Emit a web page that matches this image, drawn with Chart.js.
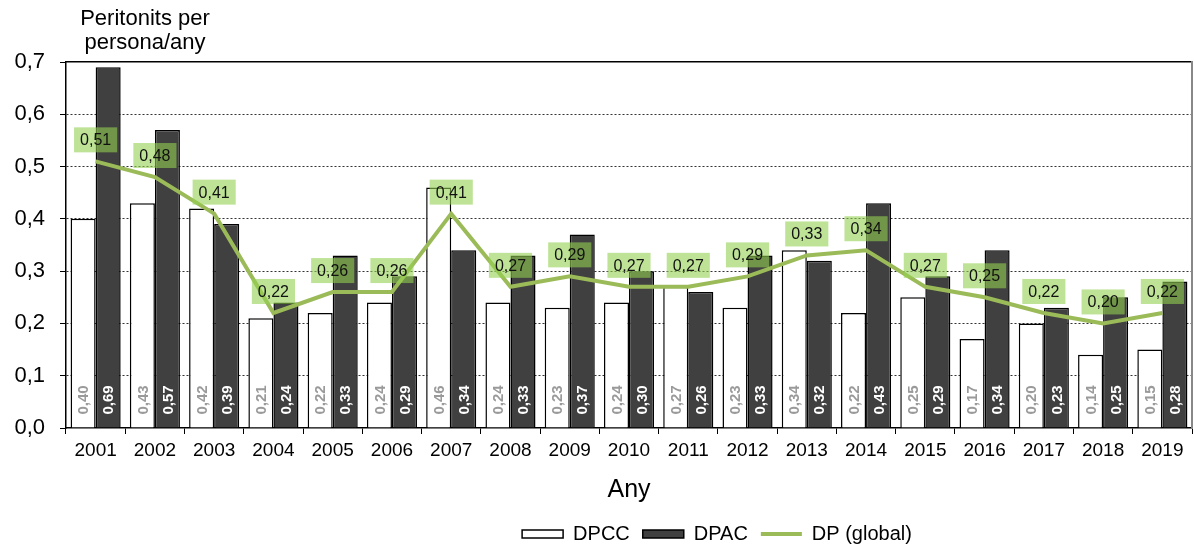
<!DOCTYPE html>
<html lang="ca">
<head>
  <meta charset="UTF-8">
  <title>Peritonits per persona/any</title>
  <script src="https://cdn.jsdelivr.net/npm/chart.js"></script>
  <style>
    body {
      margin: 0;
      background: #ffffff;
    }
    canvas {
      display: block;
    }
  </style>
</head>
<body>

<canvas id="peritonitisChart" width="1194" height="546"></canvas>

<script>
  const years = ['2001', '2002', '2003', '2004', '2005', '2006', '2007', '2008', '2009', '2010',
                 '2011', '2012', '2013', '2014', '2015', '2016', '2017', '2018', '2019'];
  const dpcc = [0.40, 0.43, 0.42, 0.21, 0.22, 0.24, 0.46, 0.24, 0.23, 0.24,
                0.27, 0.23, 0.34, 0.22, 0.25, 0.17, 0.20, 0.14, 0.15];
  const dpac = [0.69, 0.57, 0.39, 0.24, 0.33, 0.29, 0.34, 0.33, 0.37, 0.30,
                0.26, 0.33, 0.32, 0.43, 0.29, 0.34, 0.23, 0.25, 0.28];
  const dpGlobal = [0.51, 0.48, 0.41, 0.22, 0.26, 0.26, 0.41, 0.27, 0.29, 0.27,
                    0.27, 0.29, 0.33, 0.34, 0.27, 0.25, 0.22, 0.20, 0.22];
  const yTitle = ['Peritonits per', 'persona/any'];
  const xTitle = 'Any';

  const FONT = "'Liberation Sans', Arial, sans-serif";
  Chart.defaults.font.family = FONT;
  Chart.defaults.color = '#000';

  const fmt = v => v.toFixed(2).replace('.', ',');

  // values written inside the bars and the green boxes over the line
  const valueLabels = {
    id: 'valueLabels',
    afterDatasetsDraw(chart) {
      const ctx = chart.ctx;
      ctx.save();
      [0, 1].forEach(di => {
        const meta = chart.getDatasetMeta(di);
        ctx.fillStyle = di === 0 ? '#9a9a9a' : '#ffffff';
        ctx.font = 'bold 15px ' + FONT;
        ctx.textAlign = 'left';
        ctx.textBaseline = 'middle';
        meta.data.forEach((bar, i) => {
          ctx.save();
          ctx.translate(bar.x, bar.base - 13);
          ctx.rotate(-Math.PI / 2);
          ctx.fillText(fmt(chart.data.datasets[di].data[i]), 0, 1);
          ctx.restore();
        });
      });
      const lineMeta = chart.getDatasetMeta(2);
      ctx.font = '16px ' + FONT;
      ctx.textAlign = 'center';
      ctx.textBaseline = 'middle';
      lineMeta.data.forEach((pt, i) => {
        const txt = fmt(dpGlobal[i]);
        const w = ctx.measureText(txt).width + 12;
        const h = 25;
        const bottom = pt.y - 9;
        ctx.fillStyle = 'rgba(146,208,80,0.6)';
        ctx.fillRect(pt.x - w / 2, bottom - h, w, h);
        ctx.fillStyle = '#111';
        ctx.fillText(txt, pt.x, bottom - h / 2 + 1);
      });
      ctx.restore();
    },
    afterDraw(chart) {
      const ctx = chart.ctx;
      ctx.save();
      ctx.font = '22px ' + FONT;
      ctx.fillStyle = '#000';
      ctx.textAlign = 'center';
      ctx.textBaseline = 'middle';
      ctx.fillText(yTitle[0], 145, 19);
      ctx.fillText(yTitle[1], 145, 43);
      ctx.restore();
    }
  };

  // legend sits right of centre in the original
  const legendShift = {
    id: 'legendShift',
    afterLayout(chart) {
      const lg = chart.legend;
      lg.left += 121; lg.right += 121;
      lg.top += 8; lg.bottom += 8;
    }
  };

  const chart = new Chart(document.getElementById('peritonitisChart'), {
    type: 'bar',
    data: {
      labels: years,
      datasets: [
        {
          label: 'DPCC',
          data: dpcc,
          backgroundColor: '#ffffff',
          borderColor: '#000000',
          borderWidth: 1.5,
          categoryPercentage: 0.845,
          barPercentage: 1.0,
          order: 1
        },
        {
          label: 'DPAC',
          data: dpac,
          backgroundColor: '#404040',
          borderColor: '#000000',
          borderWidth: 1.5,
          categoryPercentage: 0.845,
          barPercentage: 1.0,
          order: 2
        },
        {
          type: 'line',
          label: 'DP (global)',
          data: dpGlobal,
          borderColor: '#9bbb59',
          backgroundColor: '#9bbb59',
          borderWidth: 4,
          pointRadius: 0,
          tension: 0,
          fill: false,
          order: 0
        }
      ]
    },
    options: {
      responsive: false,
      animation: false,
      layout: { padding: { top: 62, right: 2, left: 0, bottom: 0 } },
      plugins: {
        tooltip: { enabled: false },
        legend: {
          position: 'bottom',
          labels: {
            usePointStyle: true,
            pointStyleWidth: 41,
            boxHeight: 8,
            padding: 13,
            color: '#000',
            font: { size: 20 },
            sort: (a, b) => a.datasetIndex - b.datasetIndex,
            generateLabels(chart) {
              const items = Chart.defaults.plugins.legend.labels.generateLabels(chart);
              items.forEach(it => {
                if (it.datasetIndex === 2) {
                  it.pointStyle = 'line';
                  it.strokeStyle = '#9bbb59';
                  it.lineWidth = 4;
                } else {
                  it.pointStyle = 'rect';
                  it.lineWidth = 1.5;
                }
              });
              return items;
            }
          }
        }
      },
      scales: {
        x: {
          type: 'category',
          offset: true,
          afterFit(scale) { scale.height = 75; },
          grid: { drawOnChartArea: false, drawTicks: true, tickLength: 6, tickColor: '#000', offset: true },
          border: { color: '#000', width: 1.5 },
          ticks: { font: { size: 19 }, color: '#000', padding: 5, maxRotation: 0 },
          title: { display: true, text: xTitle, font: { size: 25, lineHeight: 1 }, color: '#000', padding: { top: 0, bottom: 0 } }
        },
        xTop: {
          type: 'category',
          position: 'top',
          afterFit(scale) { scale.height = 0; },
          grid: { display: false },
          ticks: { display: false },
          border: { color: '#000', width: 1.5 }
        },
        y: {
          min: 0,
          max: 0.7,
          afterFit(scale) { scale.width = 66; },
          ticks: {
            stepSize: 0.1,
            font: { size: 22 },
            color: '#000',
            padding: 15,
            callback: v => v.toFixed(1).replace('.', ',')
          },
          grid: {
            color: ctx => (ctx.index === 0 || ctx.index === 7) ? 'rgba(0,0,0,0)' : '#333',
            lineWidth: 1,
            tickColor: '#000',
            tickLength: 6
          },
          border: { color: '#000', width: 1.5, dash: [2, 2] }
        },
        yRight: {
          type: 'linear',
          position: 'right',
          min: 0,
          max: 0.7,
          afterFit(scale) { scale.width = 0; },
          grid: { display: false },
          ticks: { display: false },
          border: { color: '#888', width: 2 }
        }
      }
    },
    plugins: [valueLabels, legendShift]
  });
</script>

</body>
</html>
